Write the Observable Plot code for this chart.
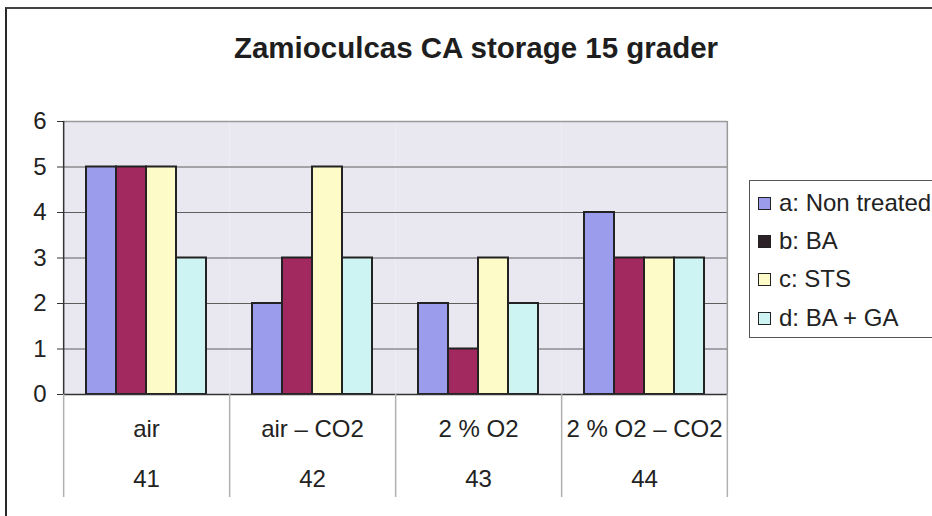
<!DOCTYPE html>
<html>
<head>
<meta charset="utf-8">
<script src="https://cdn.jsdelivr.net/npm/d3@7"></script>
<script src="https://cdn.jsdelivr.net/npm/@observablehq/plot@0.6"></script>
<style>
  html, body { margin: 0; padding: 0; background: #fff; }
  #wrap { position: relative; width: 932px; height: 516px; overflow: hidden; background: #fff;
          font-family: "Liberation Sans", Arial, sans-serif; color: #222; }
  #border { position: absolute; left: 5px; top: 7px; right: -10px; bottom: -10px;
            border-left: 2px solid #2a2a2a; border-top: 2px solid #444; pointer-events: none; }
  #title { position: absolute; left: 0; top: 0; width: 952px; height: 100px; line-height: 96px;
           text-align: center; font-weight: bold; font-size: 29.5px; color: #1e1e1e; }
  #chart { position: absolute; left: 0; top: 100px; }
  #legend { position: absolute; left: 749px; top: 180px; width: 200px; height: 156px;
            border: 1px solid #555; background: #fff; }
  .item { position: absolute; left: 8px; height: 30px; display: flex; align-items: center;
          font-size: 24px; color: #222; white-space: nowrap; }
  .sw { width: 11px; height: 11px; border: 1.5px solid #222; margin-right: 8px; }
</style>
</head>
<body>
<div id="wrap">
  <div id="title">Zamioculcas CA storage 15 grader</div>
  <div id="chart"></div>
  <div id="legend"></div>
  <div id="border"></div>
</div>
<script>
// ---- data ----
const groups = ["air", "air – CO2", "2 % O2", "2 % O2 – CO2"];
const groupNumbers = ["41", "42", "43", "44"];
const seriesKeys = ["a", "b", "c", "d"];
const seriesLabels = ["a: Non treated", "b: BA", "c: STS", "d: BA + GA"];
const seriesColors = ["#9c9cec", "#a2295f", "#fdfbc8", "#cdf3f3"];
const legendSwatchColors = ["#9c9cec", "#2b2126", "#fdfbc8", "#cdf3f3"];
const valuesA = [5, 2, 2, 4];
const valuesB = [5, 3, 1, 3];
const valuesC = [5, 5, 3, 3];
const valuesD = [3, 3, 2, 3];
const yTicks = [0, 1, 2, 3, 4, 5, 6];
const gridValues = [1, 2, 3, 4, 5];

const seriesValues = [valuesA, valuesB, valuesC, valuesD];
const table = [];
groups.forEach((g, gi) => seriesKeys.forEach((s, si) => table.push({group: g, series: s, value: seriesValues[si][gi]})));

// ---- layout ----
const W = 932, H = 416, ML = 62, MR = 204, MT = 21, MB = 122;
const step = (W - ML - MR) / groups.length / 5.5;
const below = -(103 / ((H - MT - MB) / 6)); // extend separators below the axis

const plot = Plot.plot({
  width: W, height: H,
  marginLeft: ML, marginRight: MR, marginTop: MT, marginBottom: MB,
  style: {fontFamily: "'Liberation Sans', Arial, sans-serif", fontSize: "24px", color: "#222", background: "transparent"},
  fx: {domain: groups, padding: 0, axis: null, label: null},
  x: {domain: seriesKeys, paddingInner: 0, paddingOuter: 0.75, axis: null, label: null},
  y: {domain: [0, 6], axis: null, label: null},
  color: {domain: seriesKeys, range: seriesColors},
  marks: [
    Plot.frame({fill: "#e9e7ef", stroke: null}),
    Plot.ruleY(gridValues, {stroke: "#5e5e5e", strokeWidth: 1}),
    Plot.ruleY([6], {stroke: "#9a9a9a", strokeWidth: 1.5}),
    Plot.barY(table, {fx: "group", x: "series", y: "value", fill: "series", stroke: "#222", strokeWidth: 2}),
    Plot.ruleY([0], {stroke: "#333", strokeWidth: 1.5}),
    // left axis line
    Plot.ruleX([groups[0]], {fx: d => d, x: () => "a", dx: -1.25 * step, y1: 0, y2: 6, stroke: "#333", strokeWidth: 1.5}),
    // right plot border
    Plot.ruleX([groups[3]], {fx: d => d, x: () => "d", dx: 1.25 * step, y1: 0, y2: 6, stroke: "#9a9a9a", strokeWidth: 1.5}),
    // table separators
    Plot.ruleX(groups, {fx: d => d, x: () => "a", dx: -1.25 * step, y1: 0, y2: below, stroke: "#b0b0b0", strokeWidth: 1.5}),
    Plot.ruleX([groups[3]], {fx: d => d, x: () => "d", dx: 1.25 * step, y1: 0, y2: below, stroke: "#b0b0b0", strokeWidth: 1.5}),
    Plot.axisY({ticks: yTicks, tickSize: 6, tickPadding: 11, stroke: "#333", fill: "#222", fontSize: 24, tickFormat: d => String(d)}),
    Plot.text(groups, {fx: d => d, text: d => d, frameAnchor: "bottom", dy: 42, fill: "#222", fontSize: 24}),
    Plot.text(groups, {fx: d => d, text: (d, i) => groupNumbers[i], frameAnchor: "bottom", dy: 92, fill: "#222", fontSize: 24})
  ]
});
document.getElementById("chart").appendChild(plot);

// ---- legend ----
const legend = document.getElementById("legend");
const rowCenters = [22, 60, 98, 137];
seriesLabels.forEach((lab, i) => {
  const it = document.createElement("div");
  it.className = "item";
  it.style.top = (rowCenters[i] - 15) + "px";
  const sw = document.createElement("div");
  sw.className = "sw";
  sw.style.background = legendSwatchColors[i];
  it.appendChild(sw);
  const t = document.createElement("span");
  t.textContent = lab;
  it.appendChild(t);
  legend.appendChild(it);
});
</script>
</body>
</html>
